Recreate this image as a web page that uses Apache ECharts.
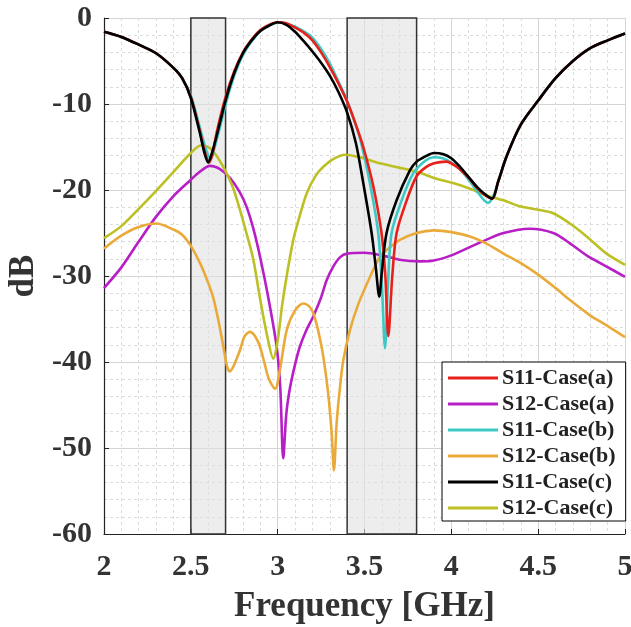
<!DOCTYPE html>
<html><head><meta charset="utf-8">
<script src="https://cdn.jsdelivr.net/npm/echarts@6/dist/echarts.min.js"></script>
<style>html,body{margin:0;padding:0;background:#fff}#c{width:631px;height:627px}</style>
</head><body><div id="c"></div>
<script>
// ---- data ----
const xTicks = [2, 2.5, 3, 3.5, 4, 4.5, 5];
const yTicks = [0, -10, -20, -30, -40, -50, -60];
const bands = [[2.5, 2.7], [3.4, 3.8]];
const seriesNames = ['S11-Case(a)', 'S12-Case(a)', 'S11-Case(b)', 'S12-Case(b)', 'S11-Case(c)', 'S12-Case(c)'];

const s11aF = [2.0,2.1,2.2,2.3,2.4,2.45,2.5,2.55,2.58,2.605,2.625,2.65,2.7,2.75,2.8,2.85,2.9,2.95,3.0,3.05,3.1,3.15,3.2,3.25,3.3,3.35,3.406,3.45,3.493,3.55,3.598,3.62,3.637,3.66,3.685,3.743,3.8,3.85,3.9,3.97,4.03,4.1,4.15,4.2,4.235,4.27,4.32,4.4,4.5,4.6,4.7,4.8,4.9,5.0];
const s11aV = [-1.6,-2.2,-3.1,-4.1,-5.8,-7.0,-9.2,-13.0,-15.5,-16.8,-15.8,-13.2,-9.2,-6.2,-4.0,-2.5,-1.4,-0.8,-0.5,-0.6,-1.1,-1.7,-2.6,-4.0,-5.7,-7.6,-10.0,-12.4,-15.0,-19.5,-25.0,-30.0,-37.0,-30.0,-25.0,-21.2,-18.4,-17.4,-16.9,-16.7,-17.3,-18.6,-19.8,-20.7,-21.0,-19.0,-16.0,-12.4,-9.6,-7.0,-5.0,-3.5,-2.6,-1.8];

const s12aF = [2.0,2.1,2.2,2.3,2.4,2.5,2.55,2.61,2.67,2.725,2.78,2.82,2.86,2.9,2.946,2.994,3.015,3.032,3.05,3.071,3.1,3.128,3.165,3.205,3.25,3.282,3.32,3.36,3.4,3.5,3.6,3.7,3.82,3.9,4.0,4.1,4.2,4.3,4.45,4.587,4.683,4.779,4.894,5.0];
const s12aV = [-31.4,-29.0,-26.0,-23.1,-20.7,-18.8,-17.9,-17.2,-17.6,-18.6,-20.2,-21.9,-24.5,-27.9,-32.5,-38.2,-43.0,-51.2,-46.0,-43.0,-40.3,-38.2,-36.3,-34.7,-32.5,-30.5,-28.9,-27.8,-27.4,-27.3,-27.6,-28.1,-28.3,-28.2,-27.6,-26.7,-25.8,-25.0,-24.5,-25.0,-26.2,-27.6,-28.9,-30.1];

const s11bF = [2.0,2.1,2.2,2.3,2.4,2.45,2.5,2.55,2.58,2.6,2.615,2.635,2.67,2.72,2.77,2.82,2.87,2.92,2.97,3.02,3.07,3.12,3.19,3.25,3.3,3.35,3.387,3.43,3.474,3.531,3.579,3.6,3.618,3.635,3.656,3.714,3.78,3.85,3.9,3.95,4.0,4.05,4.1,4.15,4.21,4.24,4.27,4.32,4.4,4.5,4.6,4.7,4.8,4.9,5.0];
const s11bV = [-1.6,-2.2,-3.1,-4.1,-5.8,-7.0,-9.0,-12.6,-14.8,-16.0,-16.3,-15.2,-12.5,-8.6,-5.6,-3.6,-2.2,-1.2,-0.7,-0.5,-0.8,-1.2,-2.1,-3.6,-5.3,-7.4,-9.0,-11.3,-14.0,-19.2,-25.0,-31.0,-38.4,-31.0,-25.0,-21.2,-18.1,-16.6,-16.2,-16.3,-16.8,-17.6,-18.8,-20.2,-21.5,-20.8,-19.0,-16.0,-12.4,-9.6,-7.0,-5.0,-3.5,-2.6,-1.8];

const s12bF = [2.0,2.1,2.2,2.3,2.4,2.45,2.5,2.553,2.6,2.63,2.66,2.687,2.71,2.725,2.75,2.783,2.81,2.84,2.87,2.898,2.925,2.95,2.985,3.013,3.052,3.1,3.147,3.18,3.205,3.235,3.263,3.29,3.31,3.324,3.34,3.359,3.378,3.416,3.46,3.512,3.55,3.589,3.65,3.704,3.8,3.9,4.0,4.107,4.2,4.3,4.4,4.49,4.6,4.683,4.8,4.875,5.0];
const s12bV = [-26.8,-25.3,-24.3,-23.9,-24.6,-25.2,-26.5,-28.5,-30.8,-32.6,-35.3,-38.2,-40.6,-41.1,-40.3,-38.6,-37.0,-36.5,-37.0,-38.2,-40.2,-42.0,-43.1,-40.9,-36.3,-34.0,-33.2,-33.5,-34.3,-36.5,-39.4,-43.5,-48.0,-52.6,-47.0,-42.9,-39.8,-36.3,-33.5,-31.0,-29.3,-27.8,-26.6,-25.8,-25.0,-24.7,-24.9,-25.4,-26.2,-27.4,-28.5,-29.7,-31.4,-32.8,-34.6,-35.5,-37.1];

const s11cF = [2.0,2.1,2.2,2.3,2.4,2.45,2.5,2.55,2.58,2.6,2.62,2.65,2.7,2.75,2.8,2.85,2.9,2.95,3.0,3.05,3.1,3.15,3.2,3.25,3.3,3.35,3.4,3.45,3.493,3.541,3.565,3.585,3.6,3.627,3.685,3.762,3.8,3.85,3.9,3.95,4.0,4.05,4.1,4.15,4.2,4.235,4.27,4.32,4.4,4.5,4.6,4.7,4.8,4.9,5.0];
const s11cV = [-1.6,-2.2,-3.1,-4.1,-5.8,-7.0,-9.3,-13.2,-15.8,-16.8,-15.8,-13.6,-9.6,-6.4,-4.1,-2.6,-1.5,-0.9,-0.5,-0.8,-1.6,-2.7,-3.9,-5.2,-6.7,-8.6,-11.0,-14.5,-19.2,-25.0,-29.0,-32.4,-29.5,-25.0,-21.2,-17.7,-16.7,-16.1,-15.7,-15.8,-16.3,-17.3,-18.5,-19.7,-20.6,-21.0,-19.0,-16.0,-12.4,-9.6,-7.0,-5.0,-3.5,-2.6,-1.8];

const s12cF = [2.0,2.1,2.2,2.3,2.4,2.5,2.56,2.62,2.687,2.74,2.783,2.82,2.86,2.9,2.94,2.975,3.0,3.025,3.052,3.09,3.13,3.167,3.22,3.263,3.32,3.39,3.474,3.589,3.7,3.82,3.9,4.01,4.1,4.2,4.3,4.395,4.5,4.587,4.683,4.779,4.894,5.0];
const s12cV = [-25.6,-24.2,-22.2,-20.1,-17.9,-15.7,-14.8,-15.3,-17.3,-19.6,-22.3,-25.0,-28.1,-32.8,-37.0,-39.6,-37.5,-33.5,-30.0,-25.8,-22.8,-20.4,-18.3,-17.3,-16.4,-15.9,-16.2,-16.9,-17.4,-18.0,-18.6,-19.2,-19.8,-20.6,-21.2,-21.9,-22.3,-22.7,-23.9,-25.4,-27.4,-28.7];

const colors = ['#e8201c', '#b81ec6', '#3cc9c6', '#eaaa3a', '#000000', '#bcc024'];
const allF = [s11aF, s12aF, s11bF, s12bF, s11cF, s12cF];
const allV = [s11aV, s12aV, s11bV, s12bV, s11cV, s12cV];
const drawOrder = [1, 3, 5, 2, 0, 4];

const font = '"Liberation Serif", "Times New Roman", serif';
const chart = echarts.init(document.getElementById('c'), null, {renderer: 'canvas'});

const series = [];
series.push({
  name: '_bands', type: 'line', data: [], silent: true, z: 1,
  markArea: {
    silent: true,
    itemStyle: {color: 'rgba(225,225,225,0.6)', borderColor: '#333', borderWidth: 1.5},
    data: bands.map(b => [{xAxis: b[0], yAxis: 0}, {xAxis: b[1], yAxis: -60}])
  }
});
drawOrder.forEach((i, k) => {
  series.push({
    name: seriesNames[i], type: 'line', showSymbol: false, symbol: 'none',
    smooth: 0.3, z: 3 + k,
    lineStyle: {color: colors[i], width: 2.6},
    itemStyle: {color: colors[i]},
    data: allF[i].map((f, j) => [f, allV[i][j]])
  });
});

chart.setOption({
  animation: false,
  backgroundColor: '#fff',
  grid: {left: 104, right: 6, top: 18, bottom: 93, show: false, containLabel: false, outerBoundsMode: 'none'},
  legend: {
    orient: 'vertical', left: 442, top: 362,
    data: seriesNames,
    icon: 'path://M0,0 L50,0 L50,3 L0,3 Z',
    itemWidth: 50, itemHeight: 4, itemGap: 4,
    padding: [5, 10, 2, 6],
    borderColor: '#000', borderWidth: 1, backgroundColor: '#fff',
    textStyle: {fontFamily: font, fontWeight: 'bold', fontSize: 22, lineHeight: 22, color: '#222', padding: [0, 0, 0, -1]}
  },
  xAxis: {
    type: 'value', min: 2, max: 5, interval: 0.5,
    name: 'Frequency [GHz]', nameLocation: 'middle', nameGap: 55,
    nameTextStyle: {fontFamily: font, fontWeight: 'bold', fontSize: 35, color: '#333'},
    axisLine: {show: true, onZero: false, lineStyle: {color: '#222', width: 1.2}},
    axisTick: {show: true, inside: true, length: 5, lineStyle: {color: '#222'}},
    axisLabel: {fontFamily: font, fontWeight: 'bold', fontSize: 30, color: '#333', margin: 18,
      formatter: v => String(v)},
    splitLine: {show: true, lineStyle: {color: '#d4d4d4', width: 1}},
    minorTick: {show: false, splitNumber: 5},
    minorSplitLine: {show: true, lineStyle: {color: '#dcdcdc', width: 1, type: [3, 3]}}
  },
  yAxis: {
    type: 'value', min: -60, max: 0, interval: 10,
    name: 'dB', nameLocation: 'middle', nameGap: 61,
    nameTextStyle: {fontFamily: font, fontWeight: 'bold', fontSize: 35, color: '#333'},
    axisLine: {show: true, onZero: false, lineStyle: {color: '#222', width: 1.2}},
    axisTick: {show: true, inside: true, length: 5, lineStyle: {color: '#222'}},
    axisLabel: {fontFamily: font, fontWeight: 'bold', fontSize: 30, color: '#333', margin: 12},
    splitLine: {show: true, lineStyle: {color: '#d4d4d4', width: 1}},
    minorTick: {show: false, splitNumber: 5},
    minorSplitLine: {show: true, lineStyle: {color: '#dcdcdc', width: 1, type: [3, 3]}}
  },
  series: series
});
</script></body></html>
